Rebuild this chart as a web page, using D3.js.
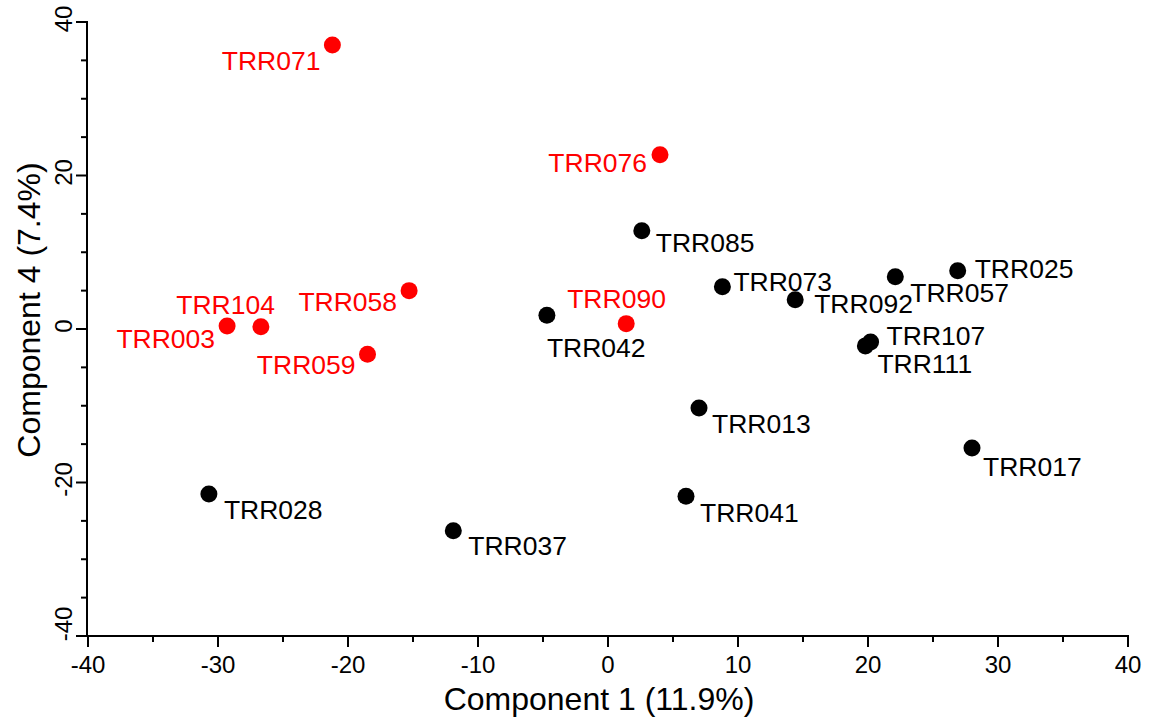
<!DOCTYPE html>
<html>
<head>
<meta charset="utf-8">
<script src="https://cdn.jsdelivr.net/npm/d3@7"></script>
<style>
  html, body { margin: 0; padding: 0; background: #fff; }
  svg { display: block; font-family: "Liberation Sans", Arial, sans-serif; }
</style>
</head>
<body>
<svg id="chart" width="1154" height="720"></svg>
<script>
// PCA scores: sample names, component 1 and component 4 coordinates, group
const samples = ["TRR071","TRR076","TRR085","TRR073","TRR092","TRR057","TRR025",
                 "TRR107","TRR111","TRR013","TRR017","TRR041","TRR037","TRR028",
                 "TRR042","TRR090","TRR058","TRR003","TRR104","TRR059"];
const comp1 = [-21.2, 4.0, 2.6, 8.8, 14.4, 22.1, 26.9,
               20.2, 19.8, 7.0, 28.0, 6.0, -11.9, -30.7,
               -4.7, 1.4, -15.3, -29.3, -26.7, -18.5];
const comp4 = [37.0, 22.7, 12.8, 5.5, 3.8, 6.8, 7.6,
               -1.7, -2.2, -10.3, -15.5, -21.8, -26.3, -21.5,
               1.8, 0.7, 5.0, 0.4, 0.3, -3.3];
const group = ["B","B","A","A","A","A","A",
               "A","A","A","A","A","A","A",
               "A","B","B","B","B","B"];

const xTicks = [-40, -30, -20, -10, 0, 10, 20, 30, 40];
const yTicks = [-40, -20, 0, 20, 40];
const xTitle = "Component 1 (11.9%)";
const yTitle = "Component 4 (7.4%)";

// label placement next to each point: [dx, dy of cap centre, anchor]
const labelPlacement = {
  TRR071: [-12, 15, "end"],   TRR076: [-13, 8, "end"],
  TRR085: [14, 12, "start"],  TRR073: [11, -5, "start"],
  TRR092: [19, 4, "start"],   TRR057: [15, 16, "start"],
  TRR025: [17, -2, "start"],  TRR107: [16, -7, "start"],
  TRR111: [12, 18, "start"],  TRR013: [13, 15, "start"],
  TRR017: [11, 18, "start"],  TRR041: [14, 16, "start"],
  TRR037: [15, 15, "start"],  TRR028: [15, 15, "start"],
  TRR042: [0, 32, "start"],   TRR090: [-59, -25, "start"],
  TRR058: [-12, 11, "end"],   TRR003: [-12, 13, "end"],
  TRR104: [14, -22, "end"],   TRR059: [-12, 10, "end"]
};

const colorOf = { A: "#000000", B: "#ff0000" };

const data = samples.map((s, i) => ({ name: s, x: comp1[i], y: comp4[i], g: group[i] }));

const svg = d3.select("#chart");
const x = d3.scaleLinear().domain([-40, 40]).range([88, 1128]);
const y = d3.scaleLinear().domain([-40, 40]).range([636, 22]);

const axisColor = "#000";
const tickFont = 24, labelFont = 26.5, titleFont = 32;

// minor ticks every 5 units
const xMinor = d3.range(-35, 40, 10);
const yMinor = d3.range(-35, 40, 5).filter(v => v % 20 !== 0);

// x axis
const gx = svg.append("g");
gx.append("line").attr("x1", 87).attr("x2", x(40) + 1).attr("y1", 636).attr("y2", 636)
  .attr("stroke", axisColor).attr("stroke-width", 2);
gx.selectAll("line.maj").data(xTicks).join("line").attr("class", "maj")
  .attr("x1", d => x(d)).attr("x2", d => x(d)).attr("y1", 636).attr("y2", 647)
  .attr("stroke", axisColor).attr("stroke-width", 2);
gx.selectAll("line.min").data(xMinor).join("line").attr("class", "min")
  .attr("x1", d => x(d)).attr("x2", d => x(d)).attr("y1", 636).attr("y2", 642)
  .attr("stroke", axisColor).attr("stroke-width", 2);
gx.selectAll("text").data(xTicks).join("text")
  .attr("x", d => x(d)).attr("y", 664 + 0.36 * tickFont)
  .attr("text-anchor", "middle").attr("font-size", tickFont).attr("fill", "#000")
  .text(d => d);

// y axis
const gy = svg.append("g");
gy.append("line").attr("x1", 87).attr("x2", 87).attr("y1", y(40) - 1).attr("y2", 637)
  .attr("stroke", axisColor).attr("stroke-width", 2);
gy.selectAll("line.maj").data(yTicks).join("line").attr("class", "maj")
  .attr("x1", 76).attr("x2", 87).attr("y1", d => y(d)).attr("y2", d => y(d))
  .attr("stroke", axisColor).attr("stroke-width", 2);
gy.selectAll("line.min").data(yMinor).join("line").attr("class", "min")
  .attr("x1", 81).attr("x2", 87).attr("y1", d => y(d)).attr("y2", d => y(d))
  .attr("stroke", axisColor).attr("stroke-width", 2);
gy.selectAll("text").data(yTicks).join("text")
  .attr("transform", d => `translate(${63 + 0.36 * tickFont},${y(d) - (d === -40 ? 12 : 3)}) rotate(-90)`)
  .attr("text-anchor", "middle").attr("font-size", tickFont).attr("fill", "#000")
  .text(d => d);

// axis titles
svg.append("text").attr("x", 599).attr("y", 698 + 0.36 * titleFont)
  .attr("text-anchor", "middle").attr("font-size", titleFont).attr("fill", "#000")
  .text(xTitle);
svg.append("text")
  .attr("transform", `translate(${28 + 0.36 * titleFont},310) rotate(-90)`)
  .attr("text-anchor", "middle").attr("font-size", titleFont).attr("fill", "#000")
  .text(yTitle);

// points
svg.append("g").selectAll("circle").data(data).join("circle")
  .attr("cx", d => x(d.x)).attr("cy", d => y(d.y)).attr("r", 8.5)
  .attr("fill", d => colorOf[d.g]);

// labels
svg.append("g").selectAll("text").data(data).join("text")
  .attr("x", d => x(d.x) + labelPlacement[d.name][0])
  .attr("y", d => y(d.y) + labelPlacement[d.name][1] + 0.36 * labelFont)
  .attr("text-anchor", d => labelPlacement[d.name][2])
  .attr("font-size", labelFont)
  .attr("fill", d => colorOf[d.g])
  .text(d => d.name);
</script>
</body>
</html>
